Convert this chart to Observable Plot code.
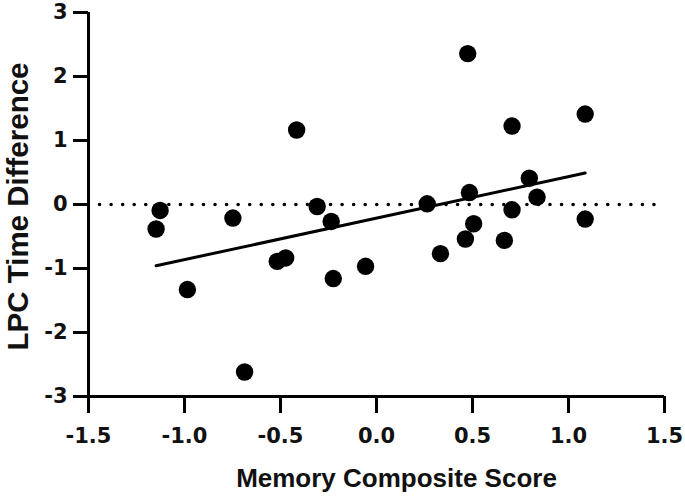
<!DOCTYPE html>
<html>
<head>
<meta charset="utf-8">
<script src="https://cdn.jsdelivr.net/npm/d3@7"></script>
<script src="https://cdn.jsdelivr.net/npm/@observablehq/plot@0.6"></script>
<style>
  html, body { margin: 0; padding: 0; background: #fff; }
  #chart { width: 685px; height: 496px; }
</style>
</head>
<body>
<div id="chart"></div>
<script>
// Data
const memoryScore = [-1.127, -1.148, -0.748, -0.985, -0.687, -0.416, -0.309, -0.236, 0.264, -0.517,
                     -0.473, -0.225, -0.057, 0.333, 0.475, 0.706, 1.087, 0.484, 0.796, 0.836,
                     0.706, 0.506, 1.087, 0.463, 0.666];
const lpcTimeDiff = [-0.093, -0.383, -0.212, -1.329, -2.617, 1.164, -0.031, -0.265, 0.011, -0.888,
                     -0.835, -1.157, -0.966, -0.768, 2.358, 1.226, 1.413, 0.187, 0.411, 0.115,
                     -0.083, -0.301, -0.227, -0.539, -0.561];
const xTicks = [-1.5, -1.0, -0.5, 0.0, 0.5, 1.0, 1.5];
const yTicks = [-3, -2, -1, 0, 1, 2, 3];
const xTitle = "Memory Composite Score";
const yTitle = "LPC Time Difference";
const xDomain = [-1.5, 1.5];
const yDomain = [-3, 3];
const refLineY = 0;
const refLineEnd = 1.46;

const points = memoryScore.map((x, i) => ({x, y: lpcTimeDiff[i]}));

const tickFont = "DejaVu Sans";
const titleFont = "Liberation Sans, Arial, sans-serif";

const chart = Plot.plot({
  width: 685,
  height: 496,
  marginLeft: 88,
  marginRight: 21,
  marginTop: 12,
  marginBottom: 100,
  style: {background: "#fff", color: "#000", overflow: "visible"},
  x: {domain: xDomain, axis: null},
  y: {domain: yDomain, axis: null},
  marks: [
    // dotted reference line at zero
    Plot.ruleY([refLineY], {x1: xDomain[0], x2: refLineEnd, stroke: "#000", strokeWidth: 3.6,
      strokeDasharray: "0 11.55", strokeLinecap: "round"}),
    // axis lines
    Plot.ruleX([xDomain[0]], {y1: yDomain[0], y2: yDomain[1], stroke: "#000", strokeWidth: 3}),
    Plot.ruleY([yDomain[0]], {x1: xDomain[0], x2: xDomain[1], stroke: "#000", strokeWidth: 3}),
    // axes ticks and labels
    Plot.axisX(xTicks, {anchor: "bottom", tickSize: 17, tickPadding: 15, strokeWidth: 3,
      tickFormat: d => d.toFixed(1), fontSize: 21, fontWeight: "bold", fontFamily: tickFont,
      fill: "#111", label: null}),
    Plot.axisY(yTicks, {anchor: "left", tickSize: 15, tickPadding: 6, strokeWidth: 3,
      tickFormat: d => String(d), fontSize: 21, fontWeight: "bold", fontFamily: tickFont,
      fill: "#111", label: null}),
    // regression line
    Plot.linearRegressionY(points, {x: "x", y: "y", stroke: "#000", strokeWidth: 3, ci: 0}),
    // points
    Plot.dot(points, {x: "x", y: "y", r: 8.7, fill: "#000", stroke: "none"}),
    // titles
    Plot.text([xTitle], {frameAnchor: "bottom", lineAnchor: "bottom", dy: 90, dx: 20,
      fontSize: 26, fontWeight: "bold", fontFamily: titleFont, fill: "#111"}),
    Plot.text([yTitle], {frameAnchor: "left", lineAnchor: "bottom", rotate: -90, dx: -61, dy: 2,
      textAnchor: "middle", fontSize: 29.5, fontWeight: "bold", fontFamily: titleFont, fill: "#111"})
  ]
});
document.getElementById("chart").appendChild(chart);
</script>
</body>
</html>
